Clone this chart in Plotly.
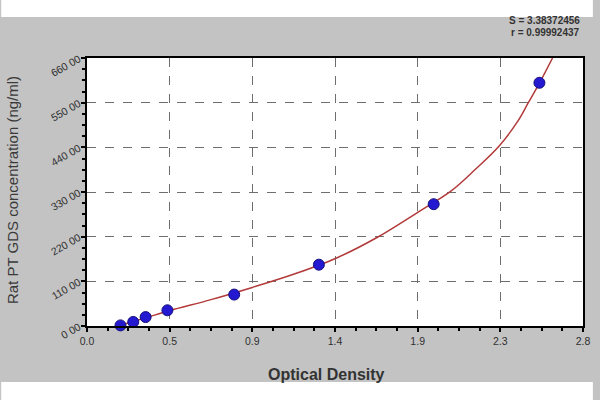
import plotly.graph_objects as go

# Standard points (optical density, concentration)
od_points = [0.189, 0.261, 0.331, 0.454, 0.831, 1.309, 1.957, 2.554]
conc_points = [1.5, 10.0, 22.0, 38.7, 77.4, 151.0, 300.0, 599.0]

# Fitted curve
curve_od = [0.19, 0.33, 0.467, 0.70, 0.933, 1.17, 1.406, 1.637, 1.867, 2.054, 2.193, 2.328, 2.433, 2.489, 2.554, 2.628]
curve_conc = [2.0, 20.0, 38.0, 65.0, 95.0, 128.0, 167.0, 218.0, 280.0, 332.0, 386.0, 444.0, 505.0, 548.0, 598.0, 660.0]

x_tickvals = [0.0, 0.4667, 0.9333, 1.4, 1.8667, 2.3333, 2.8]
x_ticktext = ["0.0", "0.5", "0.9", "1.4", "1.9", "2.3", "2.8"]
y_tickvals = [0, 110, 220, 330, 440, 550, 660]
y_ticktext = ["0 00", "110 00", "220 00", "330 00", "440 00", "550 00", "660 00"]

stat_lines = ["S = 3.38372456", "r = 0.99992437"]

FONT = "Liberation Sans, Arial, sans-serif"
GRAY_BG = "#c3c3c3"

fig = go.Figure()
fig.add_trace(go.Scatter(
    x=curve_od, y=curve_conc, mode="lines",
    line=dict(color="#b23a3a", width=1.5, shape="spline", smoothing=1.0),
    hoverinfo="skip", showlegend=False))
fig.add_trace(go.Scatter(
    x=od_points, y=conc_points, mode="markers",
    marker=dict(color="#2418d0", size=11, line=dict(color="#14107a", width=1)),
    showlegend=False, cliponaxis=False))

axis_common = dict(
    showline=True, linecolor="black", linewidth=2, mirror=True,
    ticks="outside", ticklen=4, tickwidth=1.5, tickcolor="black",
    showgrid=True, gridcolor="#6e6e6e", gridwidth=1, griddash="dash",
    zeroline=False,
    tickfont=dict(family=FONT, size=10.5, color="#303030"),
)

fig.update_xaxes(
    range=[0, 2.8], tickmode="array", tickvals=x_tickvals, ticktext=x_ticktext,
    minor=dict(ticks="outside", ticklen=3, tickcolor="black", dtick=2.8 / 24, tick0=0, showgrid=False),
    **axis_common)
fig.update_yaxes(
    range=[0, 660], tickmode="array", tickvals=y_tickvals, ticktext=y_ticktext,
    tickangle=-30,
    minor=dict(ticks="outside", ticklen=3, tickcolor="black", dtick=27.5, tick0=0, showgrid=False),
    **axis_common)

L, R, T, B = 87, 10, 58, 74
W, H = 600, 400
pw, ph = W - L - R, H - T - B

def px_to_paper_y(py):
    return (H - B - py) / ph

def px_to_paper_x(px):
    return (px - L) / pw

annotations = [
    dict(text="<b>Optical Density</b>", x=px_to_paper_x(330), y=px_to_paper_y(374),
         xref="paper", yref="paper", showarrow=False,
         font=dict(family=FONT, size=16, color="#333333"), xanchor="center", yanchor="middle"),
    dict(text="Rat PT GDS concentration (ng/ml)", x=px_to_paper_x(11), y=px_to_paper_y(190),
         xref="paper", yref="paper", showarrow=False, textangle=-90,
         font=dict(family=FONT, size=15, color="#3a3a3a"), xanchor="center", yanchor="middle"),
]
for i, s in enumerate(stat_lines):
    annotations.append(dict(
        text="<b>" + s + "</b>", x=px_to_paper_x(589), y=px_to_paper_y(20.5 + 12.5 * i),
        xref="paper", yref="paper", showarrow=False,
        font=dict(family=FONT, size=10, color="#333333"), xanchor="right", yanchor="middle"))

shapes = [
    dict(type="rect", xref="paper", yref="paper",
         x0=px_to_paper_x(0), x1=px_to_paper_x(W), y0=px_to_paper_y(0), y1=px_to_paper_y(17),
         fillcolor="white", line=dict(width=0), layer="below"),
    dict(type="rect", xref="paper", yref="paper",
         x0=px_to_paper_x(0), x1=px_to_paper_x(W), y0=px_to_paper_y(382), y1=px_to_paper_y(H),
         fillcolor="white", line=dict(width=0), layer="below"),
]

fig.update_layout(
    width=W, height=H,
    margin=dict(l=L, r=R, t=T, b=B, pad=0),
    paper_bgcolor=GRAY_BG, plot_bgcolor="white",
    annotations=annotations, shapes=shapes,
    font=dict(family=FONT),
)

fig.write_html("out.html", config={"displayModeBar": False},
               post_script="document.body.style.margin='0';")
